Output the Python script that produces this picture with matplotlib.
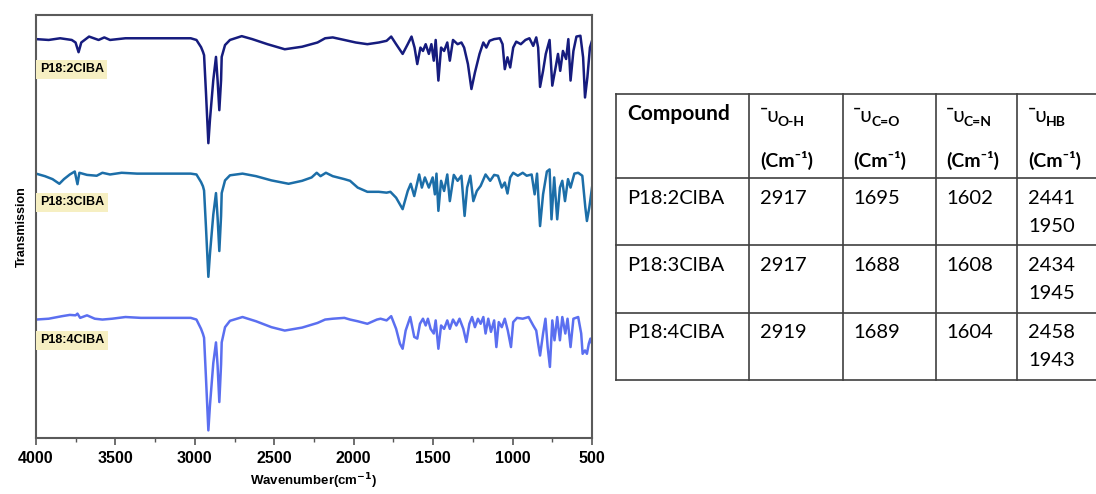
import numpy as np
import matplotlib.pyplot as plt

plt.rcParams['font.family'] = ['Liberation Sans', 'DejaVu Sans']

# FT-IR spectra: (wavenumber cm-1, relative transmission a.u., baseline = 0)
spec_2cl = [(4000, 0), (3920, -0.2), (3848, 0.2), (3775, -0.2), (3751, -0.8), (3732, -3.1),
            (3715, -0.8), (3666, 0.6), (3606, -0.2), (3570, 0.4), (3534, -0.2), (3437, 0.2),
            (3340, 0.2), (3219, 0.2), (3026, 0.2), (2990, -0.2), (2961, -1.9), (2949, -3.0),
            (2942, -3.8), (2930, -12.7), (2915, -24.6), (2905, -19.1), (2884, -9.7), (2867, -4.2),
            (2857, -9.7), (2846, -16.8), (2835, -9.7), (2831, -4.2), (2810, -1.4), (2779, -0.2),
            (2705, 0.7), (2639, 0), (2543, -1.2), (2434, -2.4), (2325, -1.8), (2228, -0.8),
            (2180, 0.2), (2132, 0.4), (2059, -0.2), (1987, -0.8), (1914, -1.2), (1842, -0.8),
            (1793, -0.4), (1764, 0.6), (1733, -1.2), (1692, -3.5), (1660, -1.2), (1636, 0.6),
            (1617, -2.0), (1600, -5.9), (1580, -2.0), (1564, -2.8), (1547, -1.2), (1527, -3.5),
            (1511, -1.2), (1496, -5.1), (1484, -0.2), (1467, -9.8), (1450, -2.0), (1431, -2.8),
            (1411, -0.8), (1395, -5.1), (1375, -0.2), (1346, -1.2), (1322, -0.8), (1305, -2.0),
            (1281, -5.9), (1259, -11.8), (1237, -7.9), (1208, -3.5), (1184, -0.8), (1165, -2.0),
            (1145, -0.4), (1116, 0), (1080, 0.2), (1063, -1.2), (1049, -7.1), (1032, -4.3),
            (1015, -6.7), (996, -2.0), (977, -0.6), (948, -1.2), (919, -0.2), (894, 0.2),
            (870, -1.6), (851, 0.4), (839, -2.0), (827, -11.3), (808, -7.5), (791, -3.5),
            (767, -0.2), (750, -11.0), (731, -7.1), (714, -3.5), (700, -7.5), (683, -2.8),
            (663, -4.7), (649, 0), (635, -9.8), (617, -2.8), (598, 0.6), (573, 0.8),
            (556, -4.3), (544, -13.8), (529, -9.0), (513, -2.0), (500, -0.4)]

spec_3cl = [(4000, 0), (3944, -0.6), (3896, -1.3), (3853, -2.4), (3824, -1.3), (3787, -0.2),
            (3756, 0.5), (3739, -2.5), (3727, 0.2), (3679, -0.3), (3618, -0.5), (3582, 0.2),
            (3534, -0.2), (3461, 0.2), (3364, 0), (3219, 0), (3026, 0), (2990, -0.2),
            (2961, -2.0), (2949, -3.0), (2942, -4.0), (2930, -12.7), (2915, -24.4), (2905, -19.0),
            (2884, -9.7), (2867, -4.6), (2857, -10.3), (2846, -18.3), (2835, -10.0), (2831, -4.6),
            (2810, -1.6), (2779, -0.4), (2700, 0), (2615, -0.6), (2518, -1.6), (2410, -2.4),
            (2325, -1.7), (2265, -0.9), (2233, 0.2), (2209, -0.6), (2175, 0.2), (2132, -0.6),
            (2059, -1.3), (2023, -1.7), (1975, -3.3), (1914, -4.3), (1842, -4.3), (1793, -4.5),
            (1769, -4.3), (1733, -5.7), (1692, -8.4), (1660, -4.1), (1641, -2.4), (1619, -5.3),
            (1588, -0.2), (1571, -3.3), (1552, -0.9), (1527, -3.3), (1503, -0.9), (1489, -4.9),
            (1479, 0), (1467, -8.8), (1450, -1.7), (1431, -4.1), (1411, -0.2), (1395, -6.5),
            (1370, -0.3), (1346, -1.7), (1322, -0.5), (1302, -10.0), (1286, -3.3), (1266, -0.5),
            (1247, -6.5), (1225, -4.1), (1201, -2.9), (1170, -0.2), (1141, -1.7), (1116, -0.3),
            (1092, -0.5), (1068, -3.3), (1049, -2.1), (1032, -4.7), (1015, -0.9), (996, 0.2),
            (967, -0.5), (936, 0.2), (911, -0.5), (880, -0.2), (861, -4.9), (846, 0),
            (827, -12.4), (808, -4.9), (784, 0.5), (767, 1.0), (755, -10.8), (738, -0.9),
            (719, -10.8), (702, -3.3), (687, -1.7), (670, -6.5), (651, -1.3), (635, -3.3),
            (611, 0), (587, 0.2), (561, -0.5), (542, -8.0), (532, -11.2), (517, -8.0),
            (500, -3.3)]

spec_4cl = [(4000, -0.2), (3920, 0), (3836, 0.6), (3787, 0.9), (3751, 0.8), (3739, 1.2),
            (3722, 0.2), (3679, 0.8), (3630, 0), (3582, -0.2), (3521, 0), (3437, 0.4),
            (3340, 0.2), (3219, 0.2), (3026, 0.2), (2990, -0.2), (2961, -2.4), (2949, -3.6),
            (2942, -4.5), (2930, -14.0), (2915, -26.4), (2905, -20.5), (2884, -10.5), (2867, -5.6),
            (2857, -11.0), (2846, -19.7), (2835, -10.8), (2831, -5.6), (2810, -2.0), (2779, -0.5),
            (2700, 0.4), (2615, -0.6), (2518, -2.0), (2434, -2.8), (2325, -2.1), (2228, -1.0),
            (2180, -0.2), (2132, 0), (2059, 0.2), (2023, -0.2), (1975, -0.6), (1914, -1.2),
            (1854, -0.2), (1831, 0), (1793, -0.4), (1764, 0.6), (1733, -2.4), (1709, -5.9),
            (1692, -7.1), (1673, -2.8), (1644, 0.4), (1619, -4.3), (1600, -4.7), (1583, -1.2),
            (1564, 0), (1547, -1.6), (1533, 0), (1516, -2.4), (1496, -3.5), (1484, -0.4),
            (1467, -7.1), (1450, -1.6), (1431, -2.4), (1411, -0.4), (1395, -2.4), (1375, -0.2),
            (1354, -1.6), (1334, 0), (1310, -2.4), (1291, -5.5), (1272, -1.2), (1255, 0.4),
            (1237, -2.0), (1218, 0), (1201, -1.2), (1184, 0.4), (1170, -3.5), (1153, 0),
            (1136, -3.1), (1116, -0.4), (1102, -6.7), (1087, -0.8), (1068, -2.0), (1049, 0),
            (1030, -2.8), (1010, -6.7), (996, -0.8), (972, 0.2), (936, 0), (899, 0.4),
            (870, -1.6), (851, -2.8), (839, -5.9), (827, -8.7), (808, -3.5), (793, 0),
            (779, -6.7), (765, -11.4), (750, -0.4), (736, -5.1), (719, 0.4), (702, -5.1),
            (687, 0.4), (668, -3.5), (654, 0), (635, -6.7), (617, 0), (587, 0.4),
            (568, -3.5), (559, -8.3), (544, -7.5), (532, -8.3), (520, -5.9), (510, -4.7),
            (500, -5.9)]

spectra = [spec_2cl, spec_3cl, spec_4cl]
labels = ['P18:2ClBA', 'P18:3ClBA', 'P18:4ClBA']

# table values
compounds = ['P18:2ClBA', 'P18:3ClBA', 'P18:4ClBA']
v_oh = [2917, 2917, 2919]
v_co = [1695, 1688, 1689]
v_cn = [1602, 1608, 1604]
v_hb = [(2441, 1950), (2434, 1945), (2458, 1943)]
sub_labels = ['O-H', 'C=O', 'C=N', 'HB']

colors = ['#161c7e', '#1c6ea8', '#5b6ff0']
offsets = [94.3, 62.5, 28.2]
label_y = [87.2, 55.7, 23.1]

fig = plt.figure(figsize=(10.96, 4.94), dpi=100)

# ---- spectra ----
ax = fig.add_axes([36/1096, 1-438/494, 556/1096, 423/494])
for spec, c, off, lab, ly in zip(spectra, colors, offsets, labels, label_y):
    d = np.array(spec)
    ax.plot(d[:, 0], d[:, 1] + off, color=c, lw=1.8)
    ax.text(3975, ly, lab, fontsize=9, fontweight='bold', va='center', ha='left',
            bbox=dict(facecolor='#f6efc2', edgecolor='none', pad=2.5))
ax.set_xlim(4000, 500)
ax.set_ylim(0, 100)
ax.set_yticks([])
ax.set_xticks(np.arange(4000, 499, -500))
ax.set_xticks(np.arange(3750, 500, -500), minor=True)
ax.tick_params(axis='x', which='major', direction='out', length=5, width=1.2,
               labelsize=11.5, pad=4, color='#555555')
ax.tick_params(axis='x', which='minor', direction='out', length=3, width=1.0, color='#555555')
for lbl in ax.get_xticklabels():
    lbl.set_fontweight('bold')
for sp in ax.spines.values():
    sp.set_color('#5a5a5a')
    sp.set_linewidth(1.5)
ax.set_xlabel('Wavenumber(cm$^{\\mathbf{-1}}$)', fontsize=9.5, fontweight='bold', labelpad=4)
ax.set_ylabel('Transmission', fontsize=9, fontweight='bold', labelpad=6)

# ---- table ----
tb = fig.add_axes([0, 0, 1, 1])
tb.set_xlim(0, 1096)
tb.set_ylim(494, 0)
tb.axis('off')
tfont = ['Lato', 'DejaVu Sans']
lc = '#404040'
for y in [94, 178, 245, 313, 380]:
    tb.plot([616, 1096], [y, y], color=lc, lw=1.2)
for x in [616, 749, 843, 936, 1017]:
    tb.plot([x, x], [94, 380], color=lc, lw=1.2)

tb.text(627, 114, 'Compound', family=tfont, fontsize=15, fontweight='bold', va='center')
col_x = [760, 853, 946, 1028]
for x0, sub in zip(col_x, sub_labels):
    tb.text(x0, 116, '\u00afυ', family=tfont, fontsize=15, va='center')
    tb.text(x0 + 18, 122, sub, family=tfont, fontsize=10, fontweight='bold', va='center')
    tb.text(x0, 160, '(Cm\u207b\u00b9)', family=tfont, fontsize=14, fontweight='bold', va='center')

row_y = [198, 265, 332]
for i, ry in enumerate(row_y):
    tb.text(627, ry, compounds[i], family=tfont, fontsize=14.5, va='center')
    tb.text(col_x[0], ry, str(v_oh[i]), family=tfont, fontsize=14.5, va='center')
    tb.text(col_x[1], ry, str(v_co[i]), family=tfont, fontsize=14.5, va='center')
    tb.text(col_x[2], ry, str(v_cn[i]), family=tfont, fontsize=14.5, va='center')
    tb.text(col_x[3], ry, str(v_hb[i][0]), family=tfont, fontsize=14.5, va='center')
    tb.text(col_x[3], ry + 28, str(v_hb[i][1]), family=tfont, fontsize=14.5, va='center')

fig.savefig('out.png', dpi=100)
